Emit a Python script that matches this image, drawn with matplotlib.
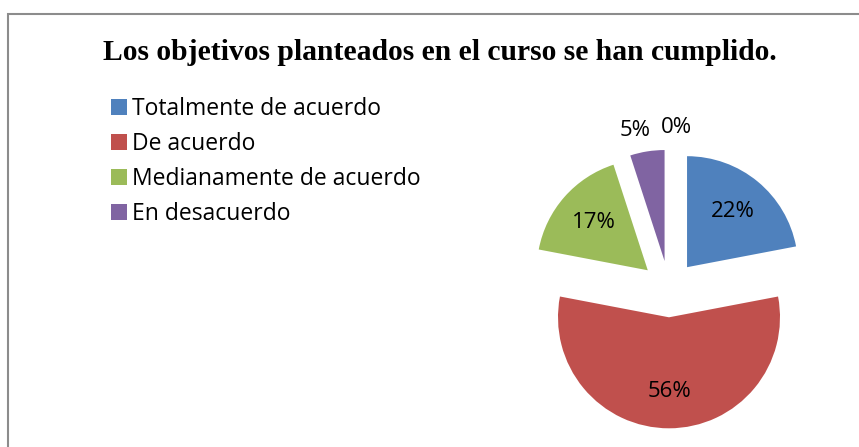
import matplotlib.pyplot as plt
import numpy as np
from matplotlib.patches import Rectangle

# data
categories = ["Totalmente de acuerdo", "De acuerdo", "Medianamente de acuerdo",
              "En desacuerdo", "Totalmente en desacuerdo"]
percent = [22, 56, 17, 5, 0]
colors = ["#4F81BD", "#C0504D", "#9BBB59", "#8064A2", "#4BACC6"]

W, H = 859, 447
fig = plt.figure(figsize=(W / 100, H / 100), dpi=100)
fig.patch.set_facecolor("white")

# chart frame (cut off on right and bottom in the reference)
fig.patches.append(Rectangle((8 / W, -0.1), 1.2, (H - 14) / H + 0.1,
                             transform=fig.transFigure, fill=False,
                             edgecolor="#8c8c8c", linewidth=1.5))

fig.text(440 / W, 1 - 53 / H, "Los objetivos planteados en el curso se han cumplido.",
         family="Liberation Serif", fontweight="bold", fontsize=21.3,
         ha="center", va="center")

# pie axes: centre at (669, 289) px, radius 111 px
size = 300
ax = fig.add_axes([(669 - size / 2) / W, (H - 289 - size / 2) / H, size / W, size / H])
wedges, _ = ax.pie(percent, colors=colors, startangle=90, counterclock=False,
                   explode=[0.255] * len(percent), radius=1,
                   wedgeprops=dict(linewidth=0))
lim = size / 2 / 111
ax.set_xlim(-lim, lim)
ax.set_ylim(-lim, lim)
ax.set_aspect("equal")
ax.axis("off")

label_dist = [0.65, 0.67, 0.65, 1.21, 1.2]
angle_shift = [0, 0, 0, 3.7, -3]
for w, p, d, s in zip(wedges, percent, label_dist, angle_shift):
    th = np.deg2rad((w.theta1 + w.theta2) / 2 + s)
    cx, cy = w.center
    ax.text(cx + d * np.cos(th), cy + d * np.sin(th), f"{p}%",
            family="Open Sans", fontsize=16, ha="center", va="center")

leg = fig.legend(wedges[:4], categories[:4], loc="upper left",
                 bbox_to_anchor=(111 / W, 1 - 97 / H), frameon=False,
                 prop=dict(family="Open Sans", size=16.5),
                 handlelength=0.72, handleheight=0.72, handletextpad=0.2,
                 labelspacing=0.48, borderaxespad=0, borderpad=0)

fig.savefig("out.png", dpi=100)
